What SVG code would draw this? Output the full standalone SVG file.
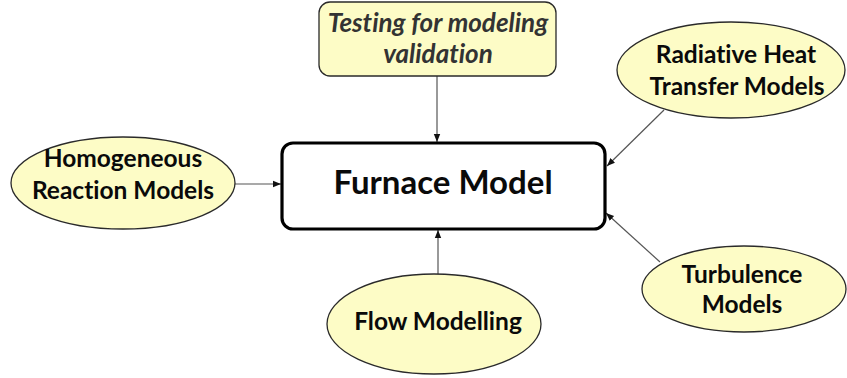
<svg xmlns="http://www.w3.org/2000/svg" width="847" height="378" viewBox="0 0 847 378">
  <defs>
    <marker id="arrow" viewBox="0 0 10 10" refX="10" refY="5" markerWidth="8" markerHeight="8" markerUnits="userSpaceOnUse" orient="auto">
      <path d="M0,1 L10,5 L0,9 Z" fill="#111"/>
    </marker>
    <style>
      .bubble { fill: #fdfcc6; stroke: #2a2a2a; stroke-width: 1.3; }
      .label { font-family: Lato, "Liberation Sans", sans-serif; font-weight: bold; font-size: 24.5px; fill: #0a0a0a; text-anchor: middle; font-variant-ligatures: none; }
      .italic { font-style: italic; fill: #333; font-size: 26px; }
      .conn { stroke: #555; stroke-width: 1.2; fill: none; marker-end: url(#arrow); }
    </style>
  </defs>
  <rect width="847" height="378" fill="#fff"/>

  <g id="connectors">
    <line class="conn" x1="437" y1="76" x2="437" y2="142"/>
    <line class="conn" x1="235" y1="184" x2="281" y2="184"/>
    <line class="conn" x1="664" y1="110" x2="607" y2="166"/>
    <line class="conn" x1="660" y1="262" x2="606" y2="213"/>
    <line class="conn" x1="438" y1="274" x2="438" y2="230"/>
  </g>

  <g id="furnace-model">
    <rect x="282" y="143" width="323" height="86" rx="11" fill="#fff" stroke="#000" stroke-width="3.2"/>
    <text class="label" x="443" y="194" style="font-size:33px">Furnace Model</text>
  </g>

  <g id="testing">
    <rect class="bubble" x="319" y="2" width="237" height="74" rx="11"/>
    <text class="label italic" x="438" y="32">Testing for modeling</text>
    <text class="label italic" x="438" y="63">validation</text>
  </g>

  <g id="radiative">
    <ellipse class="bubble" cx="731" cy="70" rx="114" ry="48"/>
    <text class="label" x="736" y="63">Radiative Heat</text>
    <text class="label" x="737" y="95">Transfer Models</text>
  </g>

  <g id="homogeneous">
    <ellipse class="bubble" cx="123" cy="183" rx="112" ry="46"/>
    <text class="label" x="123" y="167">Homogeneous</text>
    <text class="label" x="123" y="199">Reaction Models</text>
  </g>

  <g id="turbulence">
    <ellipse class="bubble" cx="744" cy="289" rx="102" ry="43"/>
    <text class="label" x="742" y="283">Turbulence</text>
    <text class="label" x="742" y="313">Models</text>
  </g>

  <g id="flow">
    <ellipse class="bubble" cx="434" cy="324" rx="107" ry="50"/>
    <text class="label" x="438" y="330">Flow Modelling</text>
  </g>
</svg>
